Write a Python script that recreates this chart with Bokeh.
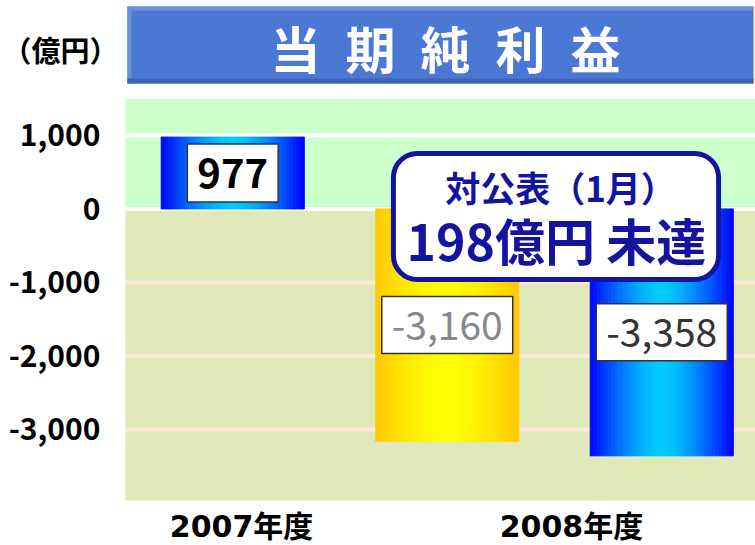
import numpy as np
from bokeh.plotting import figure
from bokeh.models import Range1d, BoxAnnotation, Label, ColumnDataSource
from bokeh.core.properties import value
from bokeh.embed import file_html
from bokeh.resources import INLINE

# ---------------- data ----------------
years = ["2007年度", "2008年度"]
bar_years = ["2007年度", "2008年度", "2008年度"]
bar_kinds = ["実績", "公表(1月)", "実績"]
bar_values = [977, -3160, -3358]
y_ticks = [-3000, -2000, -1000, 0, 1000]
title_text = "当\u2002期\u2002純\u2002利\u2002益"
unit_text = "（億円）"
callout_line1 = "対公表（1月）"
callout_line2 = "198億円 未達"

# ---------------- layout / style ----------------
JP = "Noto Sans CJK JP"
PLOT_X0, PLOT_X1 = 0, 2.937          # plotting area (data units)
PLOT_Y0, PLOT_Y1 = -3966, 1500
X_MIN, X_MAX = -0.5828, 2.937        # whole canvas
Y_MIN, Y_MAX = -4578, 2835
BAR_W = 0.667
year_tick_pos = [0.541, 2.079]
YEAR_LABEL_Y = -4320
TICK_LABEL_X = -0.117

grad = {"実績": ((0, 0, 255), (0, 204, 255)),
        "公表(1月)": ((255, 200, 0), (255, 255, 0))}

p = figure(width=755, height=545, x_range=Range1d(X_MIN, X_MAX),
           y_range=Range1d(Y_MIN, Y_MAX),
           min_border_left=0, min_border_right=0, min_border_top=0,
           min_border_bottom=0, output_backend="svg", toolbar_location=None,
           background_fill_color="white", border_fill_color="white",
           outline_line_color=None)
p.axis.visible = False
p.grid.visible = False

# plot backgrounds
p.add_layout(BoxAnnotation(left=PLOT_X0, right=PLOT_X1, bottom=0, top=PLOT_Y1,
                           fill_color="#ccffcc", fill_alpha=1,
                           line_color=None, level="image"))
p.add_layout(BoxAnnotation(left=PLOT_X0, right=PLOT_X1, bottom=PLOT_Y0, top=0,
                           fill_color="#e0e9b9", fill_alpha=1,
                           line_color=None, level="image"))

# grid lines (behind the bars)
grid_colors = ["white" if t >= 0 else "#fde9d9" for t in y_ticks]
p.segment(x0=[PLOT_X0] * len(y_ticks), x1=[PLOT_X1] * len(y_ticks),
          y0=y_ticks, y1=y_ticks, line_color=grid_colors, line_width=4)

# gradient bars
N = 40
L, R, T, B, C = [], [], [], [], []
for i, (v, kind) in enumerate(zip(bar_values, bar_kinds)):
    xc = i + 0.5
    edge, center = grad[kind]
    for k in range(N):
        t = abs((k + 0.5) / N * 2 - 1) ** 1.5
        col = tuple(int(round(center[j] * (1 - t) + edge[j] * t)) for j in range(3))
        L.append(xc - BAR_W / 2 + k * BAR_W / N)
        R.append(xc - BAR_W / 2 + (k + 1) * BAR_W / N)
        T.append(max(v, 0))
        B.append(min(v, 0))
        C.append("#%02x%02x%02x" % col)
p.quad(left=L, right=R, top=T, bottom=B, fill_color=C, line_color=C, line_width=1)

# value labels
lab = ColumnDataSource(dict(
    x=[i + 0.5 for i in range(len(bar_values))],
    y=[v / 2 for v in bar_values],
    text=[f"{v:,}" for v in bar_values],
    color=["black", "#888888", "#333333"],
    style=["bold", "normal", "normal"],
    size=["40px", "39px", "39px"],
))
p.text(x="x", y="y", text="text", source=lab, text_align="center",
       text_baseline="middle", text_color="color", text_font_style="style",
       text_font_size="size", text_font=value(JP),
       background_fill_color="white", border_line_color="#333333",
       border_line_width=1.5, padding=(10, 14))

# y tick labels
p.text(x=[TICK_LABEL_X] * len(y_ticks), y=y_ticks,
       text=[f"{t:,}" for t in y_ticks], text_align="right",
       text_baseline="middle", text_color="black", text_font=value(JP),
       text_font_style="bold", text_font_size="30px")

# category labels
p.text(x=year_tick_pos, y=[YEAR_LABEL_Y] * len(years), text=years,
       text_align="center", text_baseline="middle", text_color="black",
       text_font=value("DejaVu Sans, Noto Sans CJK JP"),
       text_font_style="bold", text_font_size="30px")

# title box
p.add_layout(BoxAnnotation(left=0.009, right=2.928, bottom=1706, top=2753,
                           fill_color="#4a78d4", fill_alpha=1, line_color=None))
p.add_layout(BoxAnnotation(left=0.009, right=2.928, bottom=2699, top=2753,
                           fill_color="#6e8fdc", fill_alpha=1, line_color=None))
p.add_layout(BoxAnnotation(left=0.009, right=0.028, bottom=1706, top=2753,
                           fill_color="#6e8fdc", fill_alpha=1, line_color=None))
p.add_layout(BoxAnnotation(left=0.009, right=2.928, bottom=1706, top=1774,
                           fill_color="#3e63b3", fill_alpha=1, line_color=None))
p.add_layout(Label(x=1.492, y=2209, text=title_text, text_align="center",
                   text_baseline="middle", text_color="white", text_font=JP,
                   text_font_style="bold", text_font_size="50px"))
p.add_layout(Label(x=-0.303, y=2182, text=unit_text, text_align="center",
                   text_baseline="middle", text_color="black", text_font=JP,
                   text_font_style="bold", text_font_size="29px"))

# callout
p.add_layout(BoxAnnotation(left=1.249, right=2.765, bottom=-960, top=754,
                           fill_color="white", fill_alpha=1, line_color="#1414a0",
                           line_alpha=1, line_width=5, border_radius=24))
p.add_layout(Label(x=2.028, y=305, text=callout_line1, text_align="center",
                   text_baseline="middle", text_color="#1414a0", text_font=JP,
                   text_font_style="bold", text_font_size="35px"))
p.add_layout(Label(x=2.009, y=-403, text=callout_line2, text_align="center",
                   text_baseline="middle", text_color="#1414a0", text_font=JP,
                   text_font_style="bold", text_font_size="50px"))

open("out.html", "w").write(file_html(p, INLINE))
